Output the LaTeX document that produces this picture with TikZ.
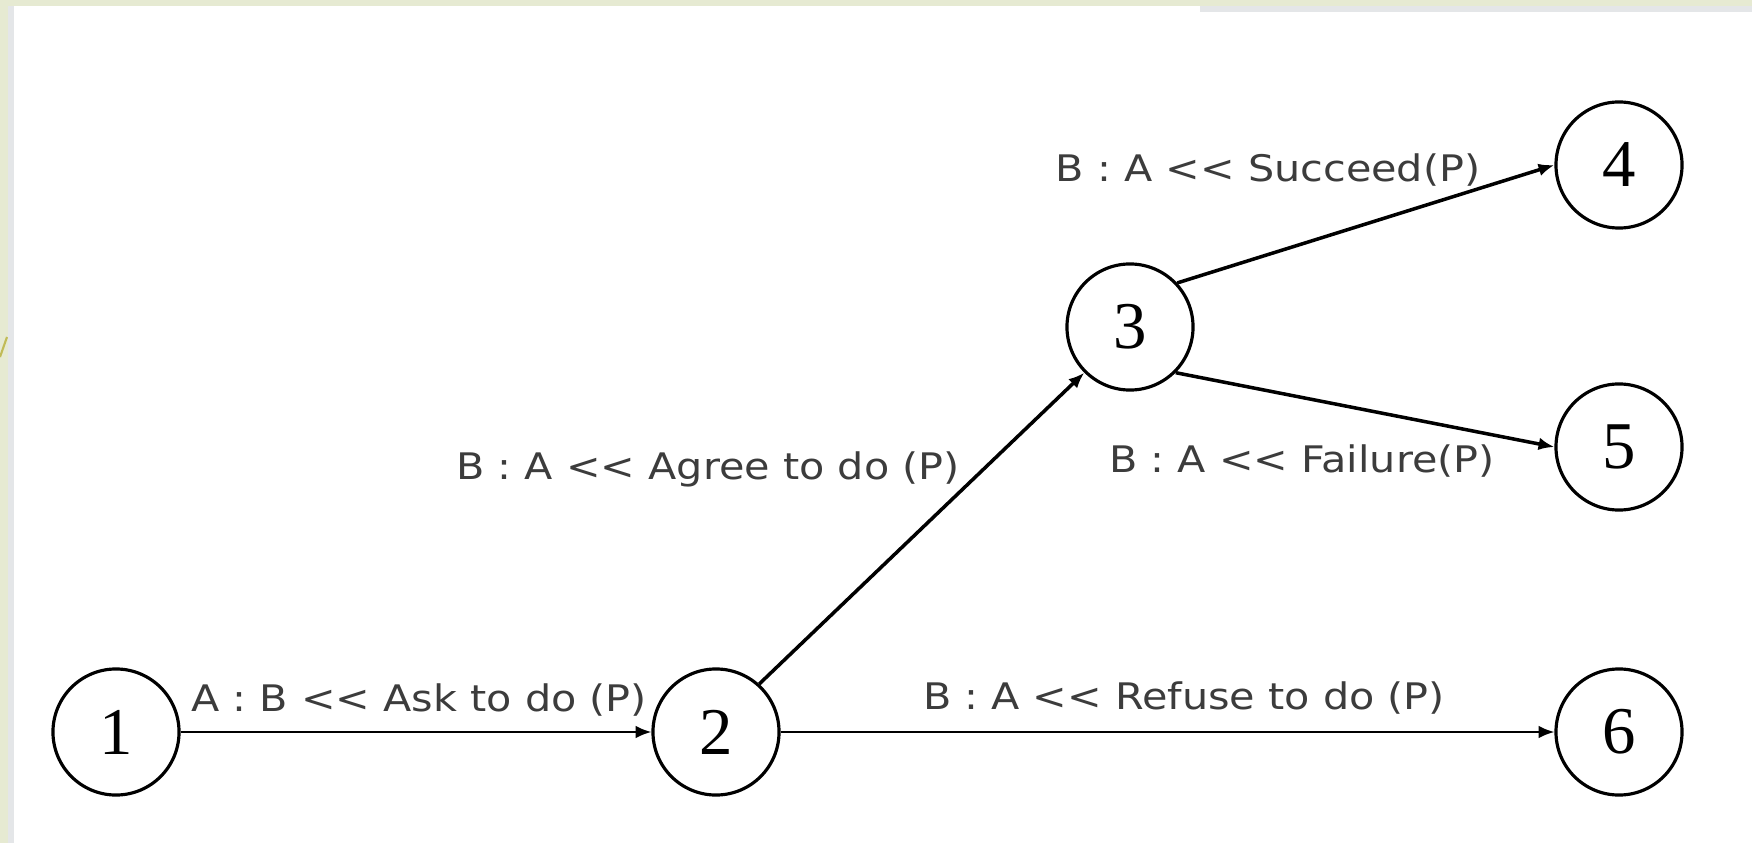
\documentclass[tikz,border=0pt]{standalone}
\usepackage{fontspec}
\setmainfont{Liberation Serif}
\newfontfamily\lblfont{DejaVu Sans}
\usetikzlibrary{arrows.meta}
\definecolor{slidegreen}{HTML}{E6EAD2}
\definecolor{shadowgrey}{HTML}{E4E6E8}
\definecolor{lbltext}{HTML}{3C3C3C}
\tikzset{
  state/.style={circle, draw=black, line width=0.9pt, minimum size=1.26cm, inner sep=0pt,
    font=\fontsize{19}{19}\selectfont},
  thinedge/.style={line width=0.6pt, -{Latex[length=4.5pt,width=3.6pt]}},
  thickedge/.style={line width=1.0pt, -{Latex[length=4.5pt,width=3.6pt]}},
  lbl/.style={font=\lblfont\fontsize{10.4}{11}\selectfont, text=lbltext, inner sep=0pt}
}
\newcommand{\wide}[1]{\scalebox{1.13}[1]{#1}}
\begin{document}
\begin{tikzpicture}[x=0.01cm,y=-0.01cm]
\useasboundingbox (0,0) rectangle (1752,843);
\fill[slidegreen] (0,0) rectangle (1752,843);
\fill[white] (8,6) rectangle (1752,843);
\fill[shadowgrey] (8,6) rectangle (14,843);
\fill[shadowgrey] (1200,6) rectangle (1752,12);
\draw[line width=0.6pt, color=olive!55] (0,357) -- (7,337);
% nodes
\node[state] (n1) at (116,732) {1};
\node[state] (n2) at (716,732) {2};
\node[state] (n3) at (1130,327) {3};
\node[state] (n4) at (1619,165) {4};
\node[state] (n5) at (1619,447) {5};
\node[state] (n6) at (1619,732) {6};
% edges
\draw[thinedge] (n1.east) -- (n2.west);
\draw[thickedge] (n2.48) -- (n3.225);
\draw[thickedge] (n3.43) -- (n4.west);
\draw[thickedge] (n3.-45) -- (n5.west);
\draw[thinedge] (n2.east) -- (n6.west);
% labels
\node[lbl] (l12) at (419,700) {\wide{A : B << Ask to do (P)}};
\node[lbl] (l23) at (708,469) {\wide{B : A << Agree to do (P)}};
\node[lbl] (l34) at (1268,170) {\wide{B : A << Succeed(P)}};
\node[lbl] (l35) at (1302,461) {\wide{B : A << Failure(P)}};
\node[lbl] (l26) at (1184,698) {\wide{B : A << Refuse to do (P)}};
\end{tikzpicture}
\end{document}
